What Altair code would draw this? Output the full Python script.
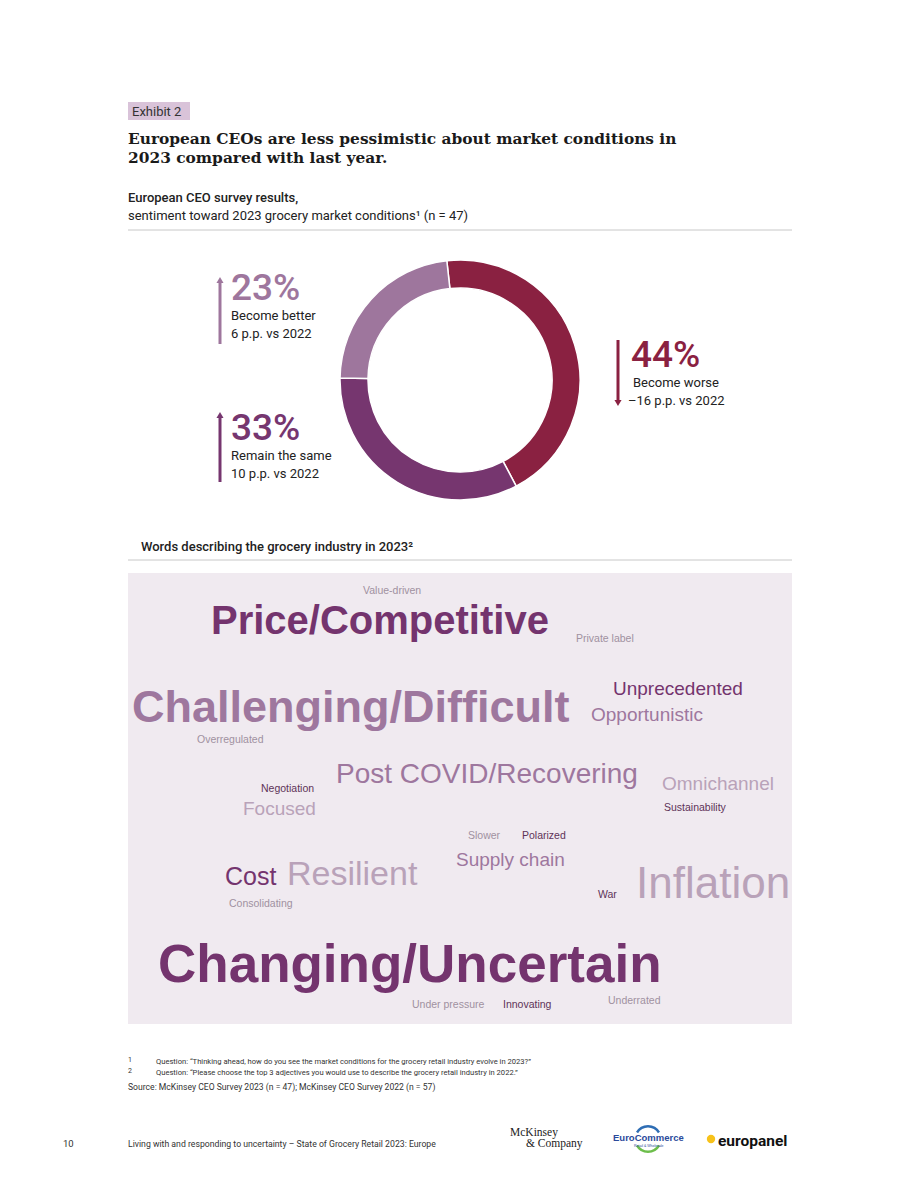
import math
import altair as alt
import pandas as pd

# ---------------- data ----------------
donut_labels = ["Become worse", "Remain the same", "Become better"]
donut_values = [44, 33, 23]
donut_changes = ["\u201316 p.p. vs 2022", "10 p.p. vs 2022", "6 p.p. vs 2022"]
donut_colors = ["#8A2141", "#76366F", "#9E769D"]

cloud_words = [
    "Value-driven", "Price/Competitive", "Private label", "Challenging/Difficult",
    "Unprecedented", "Opportunistic", "Overregulated", "Post COVID/Recovering",
    "Negotiation", "Focused", "Omnichannel", "Sustainability", "Slower", "Polarized",
    "Supply chain", "Cost", "Resilient", "Consolidating", "War", "Inflation",
    "Changing/Uncertain", "Under pressure", "Innovating", "Underrated",
]
# relative prominence class of each word (0 = smallest)
cloud_weight = [0, 5, 0, 5, 2, 2, 0, 3, 0, 2, 2, 0, 0, 0, 2, 3, 4, 0, 0, 4, 6, 0, 0, 0]

# ---------------- layout ----------------
W, H = 920, 1191
xs = alt.Scale(domain=[0, W], range=[0, W], nice=False, zero=False)
ys = alt.Scale(domain=[0, H], range=[0, H], nice=False, zero=False)

DARK = "#74346E"
MID = "#9E779E"
LIGHT = "#B9A2B9"
GRAY = "#A091A0"
SDARK = "#5E3358"
TXT = "#222222"

cloud_x = [363, 211, 576, 132, 613, 591, 197, 336, 261, 243, 662, 664, 468, 522,
           456, 225, 287, 229, 598, 636, 158, 412, 503, 608]
cloud_y = [594, 634, 642, 722, 695, 721, 743, 783, 792, 815, 790, 811, 839, 839,
           866, 885, 885, 907, 898, 898, 982, 1008, 1008, 1004]
cloud_size = [10.5, 40, 10.5, 45, 19, 19, 10.5, 28, 10.5, 19, 19, 10.5, 10.5, 10.5,
              19, 25, 34, 10.5, 10.5, 44, 53, 10.5, 10.5, 10.5]
cloud_color = [GRAY, DARK, GRAY, MID, DARK, MID, GRAY, MID, SDARK, LIGHT, LIGHT, SDARK,
               GRAY, SDARK, MID, DARK, LIGHT, GRAY, SDARK, LIGHT, DARK, GRAY, SDARK, GRAY]


def X(f="x"):
    return alt.X(f"{f}:Q", scale=xs, axis=None)


def Y(f="y"):
    return alt.Y(f"{f}:Q", scale=ys, axis=None)


def texts(rows, font="Roboto", weight="normal", align="left"):
    df = pd.DataFrame(rows, columns=["text", "x", "y", "size", "color"])
    return alt.Chart(df).mark_text(font=font, fontWeight=weight, align=align,
                                   baseline="alphabetic").encode(
        x=X(), y=Y(), text="text:N",
        size=alt.Size("size:Q", scale=None, legend=None),
        color=alt.Color("color:N", scale=None, legend=None))


def rects(rows):
    df = pd.DataFrame(rows, columns=["x", "x2", "y", "y2", "color"])
    return alt.Chart(df).mark_rect().encode(
        x=X(), x2="x2:Q", y=Y(), y2="y2:Q",
        color=alt.Color("color:N", scale=None, legend=None))


def rules(rows):
    df = pd.DataFrame(rows, columns=["x", "x2", "y", "y2", "color", "w"])
    return alt.Chart(df).mark_rule().encode(
        x=X(), x2="x2:Q", y=Y(), y2="y2:Q",
        color=alt.Color("color:N", scale=None, legend=None),
        strokeWidth=alt.StrokeWidth("w:Q", scale=None, legend=None))


layers = []

# header
layers.append(rects([[128, 190, 102, 120, "#D9C3D9"],
                     [128, 792, 573, 1024, "#F0EAF0"]]))
layers.append(texts([["Exhibit 2", 132, 116, 13, "#333333"]]))
layers.append(texts([
    ["European CEOs are less pessimistic about market conditions in", 128, 144, 15.4, "#1a1a1a"],
    ["2023 compared with last year.", 128, 163, 15.4, "#1a1a1a"],
], font="DejaVu Serif", weight="bold"))
layers.append(texts([
    ["European CEO survey results,", 128, 202, 13, TXT],
    ["Words describing the grocery industry in 2023\u00b2", 141, 551, 13, TXT],
], weight=500))
layers.append(texts([
    ["sentiment toward 2023 grocery market conditions\u00b9 (n = 47)", 128, 220, 13, TXT],
]))
layers.append(rules([[128, 792, 230, 230, "#C8C8C8", 1],
                     [128, 792, 560, 560, "#C8C8C8", 1]]))

# donut
donut_df = pd.DataFrame({"label": donut_labels, "value": donut_values,
                         "ord": list(range(len(donut_labels))), "color": donut_colors})
start = -0.11
total = sum(donut_values)
layers.append(alt.Chart(donut_df).mark_arc(innerRadius=92, outerRadius=120,
                                           stroke="white", strokeWidth=1.5).encode(
    theta=alt.Theta("value:Q", stack=True,
                    scale=alt.Scale(domain=[0, total], range=[start, start + 2 * math.pi])),
    order=alt.Order("ord:Q"),
    color=alt.Color("color:N", scale=None, legend=None),
    x=alt.value(460), y=alt.value(380)))

# donut annotations
pct = [f"{v}%" for v in donut_values]
ann_x = [631, 231, 231]
ann_y = [367, 440, 300]
layers.append(texts([[pct[i], ann_x[i], ann_y[i], 37, donut_colors[i]] for i in range(3)],
                    weight=500))
sub_rows = []
for i in range(3):
    dx = 2 if i == 0 else 0
    sub_rows.append([donut_labels[i], ann_x[i] + dx, ann_y[i] + 20, 13, TXT])
    sub_rows.append([donut_changes[i], ann_x[i] - 3 if i == 0 else ann_x[i], ann_y[i] + 38, 13, TXT])
layers.append(texts(sub_rows))

# arrows
layers.append(rules([[618, 618, 340, 400, donut_colors[0], 3],
                     [220, 220, 418, 482, donut_colors[1], 3],
                     [220, 220, 283, 344, donut_colors[2], 3]]))
tri_up = pd.DataFrame({"x": [220, 220], "y": [280, 415], "color": [donut_colors[2], donut_colors[1]]})
tri_dn = pd.DataFrame({"x": [618], "y": [403], "color": [donut_colors[0]]})
for df, shape in [(tri_up, "triangle-up"), (tri_dn, "triangle-down")]:
    layers.append(alt.Chart(df).mark_point(shape=shape, filled=True, size=50, opacity=1).encode(
        x=X(), y=Y(), color=alt.Color("color:N", scale=None, legend=None)))

# word cloud
bold_rows, reg_rows = [], []
for i, w in enumerate(cloud_words):
    row = [w, cloud_x[i], cloud_y[i], cloud_size[i], cloud_color[i]]
    (bold_rows if cloud_weight[i] >= 5 else reg_rows).append(row)
layers.append(texts(bold_rows, font="Liberation Sans", weight="bold"))
layers.append(texts(reg_rows, font="Liberation Sans"))

# footnotes
layers.append(texts([
    ["1", 128, 1062, 7, "#333333"],
    ["2", 128, 1073, 7, "#333333"],
]))
layers.append(texts([
    ["Question: \u201cThinking ahead, how do you see the market conditions for the grocery retail industry evolve in 2023?\u201d", 156, 1064, 7.6, "#333333"],
    ["Question: \u201cPlease choose the top 3 adjectives you would use to describe the grocery retail industry in 2022.\u201d", 156, 1075, 7.6, "#333333"],
    ["Source: McKinsey CEO Survey 2023 (n = 47); McKinsey CEO Survey 2022 (n = 57)", 128, 1090, 8.6, "#333333"],
    ["10", 63, 1147, 9.5, "#333333"],
    ["Living with and responding to uncertainty \u2013 State of Grocery Retail 2023: Europe", 128, 1147, 8.7, "#333333"],
]))

# logos
layers.append(texts([
    ["McKinsey", 510, 1136, 11.5, "#222222"],
    ["& Company", 526, 1147, 11.5, "#222222"],
], font="Liberation Serif"))
logo_arcs = pd.DataFrame({"a": [120, 60, 120, 60], "ord": [0, 1, 2, 3],
                          "color": ["#2E6DB4", "#FFFFFF", "#6DBE4B", "#FFFFFF"]})
layers.append(alt.Chart(logo_arcs).mark_arc(innerRadius=11.5, outerRadius=14).encode(
    theta=alt.Theta("a:Q", stack=True,
                    scale=alt.Scale(domain=[0, 360], range=[-1.047, 2 * math.pi - 1.047])),
    order=alt.Order("ord:Q"),
    color=alt.Color("color:N", scale=None, legend=None),
    x=alt.value(648), y=alt.value(1139)))
layers.append(texts([["EuroCommerce", 613, 1141, 9.5, "#2B4A9B"]], font="Liberation Sans", weight="bold"))
layers.append(texts([["Retail & Wholesale", 634, 1147, 3.5, "#2B4A9B"]], font="Liberation Sans"))
drop = pd.DataFrame({"x": [711], "y": [1139], "color": ["#F7C21A"]})
layers.append(alt.Chart(drop).mark_point(shape="circle", filled=True, size=70, opacity=1).encode(
    x=X(), y=Y(), color=alt.Color("color:N", scale=None, legend=None)))
layers.append(texts([["europanel", 718, 1146, 15.5, "#111111"]], font="Roboto", weight="bold"))

chart = alt.layer(*layers).resolve_scale(theta="independent").properties(
    width=W, height=H, autosize=alt.AutoSizeParams(type="none"), padding=0,
    background="white",
).configure_view(stroke=None)

chart.save("out.html", embed_options={"renderer": "svg", "actions": False})
